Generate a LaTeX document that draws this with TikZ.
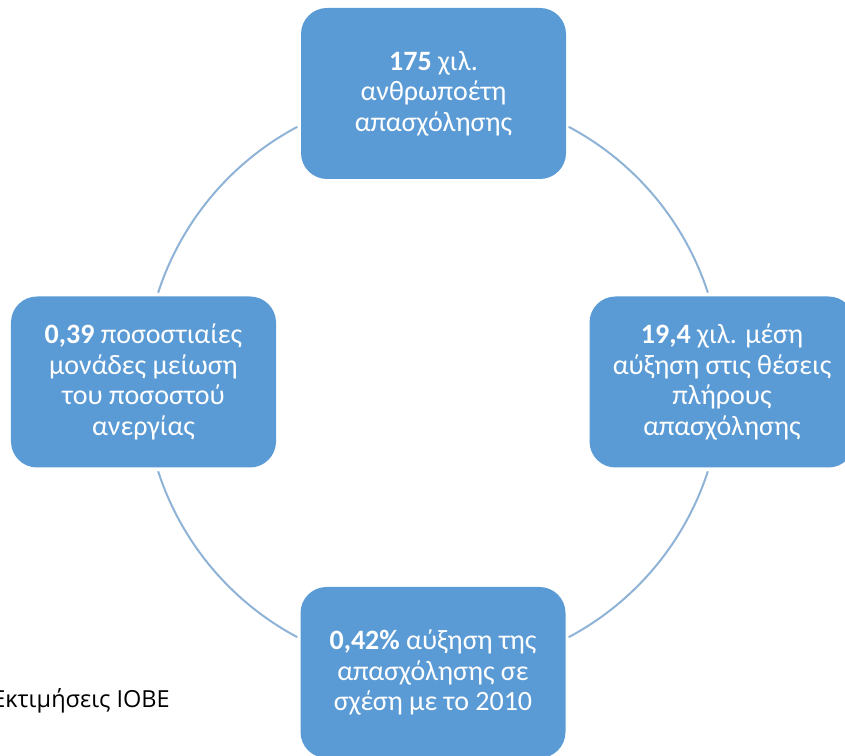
\documentclass[tikz,border=0pt]{standalone}
\usepackage{fontspec}
\usetikzlibrary{calc}
\setmainfont{Carlito}
\newfontfamily\capfont{Open Sans}
\definecolor{boxblue}{HTML}{5B9BD5}
\definecolor{arcblue}{RGB}{143,179,214}
\begin{document}
\begin{tikzpicture}[x=1bp,y=1bp,
  box/.style={rounded corners=26bp, fill=boxblue, minimum width=265bp, minimum height=171bp,
    text=white, align=center, inner sep=0pt, font=\fontsize{28bp}{30.5bp}\selectfont},
  arcline/.style={draw=arcblue, line width=2bp}]
\useasboundingbox (0,0) rectangle (845,756);
\coordinate (c) at (433,374);
\node[box] (top) at (433.5,662.5) {\textbf{175} χιλ.\\ανθρωποέτη\\απασχόλησης};
\node[box] (right) at (722,374) {\textbf{19,4} χιλ. μέση\\αύξηση στις θέσεις\\πλήρους\\απασχόλησης};
\node[box] (bottom) at (433,83.5) {\textbf{0,42\%} αύξηση της\\απασχόλησης σε\\σχέση με το 2010};
\node[box] (left) at (143.5,374) {\textbf{0,39} ποσοστιαίες\\μονάδες μείωση\\του ποσοστού\\ανεργίας};
\draw[arcline] ($(c)+(18:289)$) arc[start angle=18, end angle=62, radius=289];
\draw[arcline] ($(c)+(118:289)$) arc[start angle=118, end angle=162, radius=289];
\draw[arcline] ($(c)+(198:289)$) arc[start angle=198, end angle=242, radius=289];
\draw[arcline] ($(c)+(298:289)$) arc[start angle=298, end angle=342, radius=289];
\node[anchor=base east, inner sep=0pt, font=\capfont\fontsize{23.5bp}{27bp}\selectfont] (src) at (170,48) {Εκτιμήσεις IOBE};
\end{tikzpicture}
\end{document}
